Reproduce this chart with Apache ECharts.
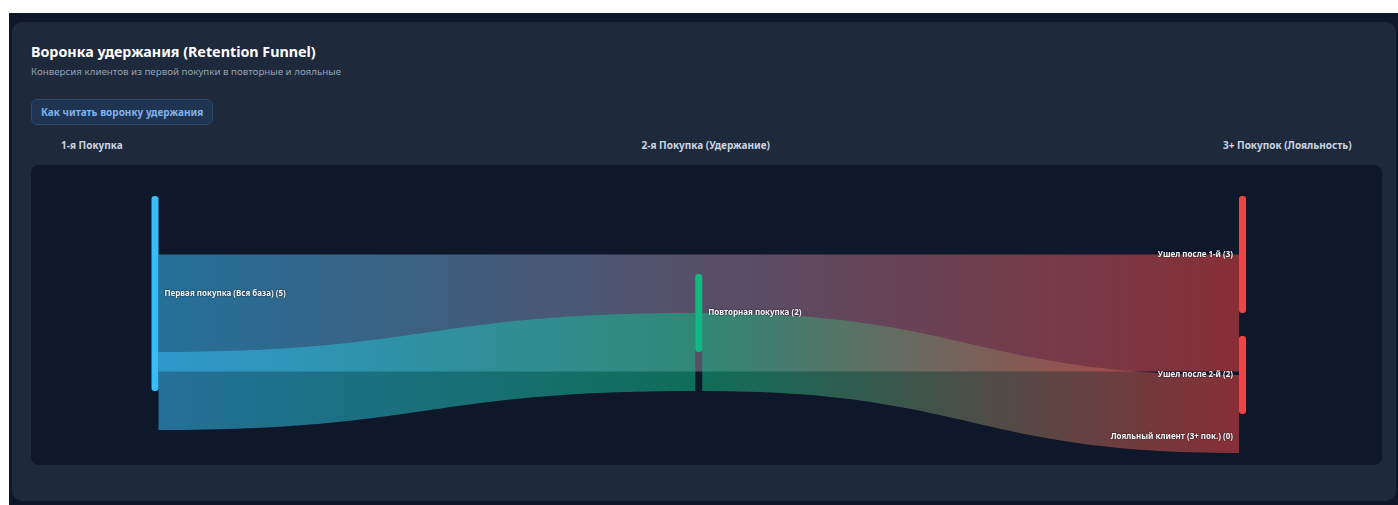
<!DOCTYPE html>
<html><head><meta charset="utf-8">
<script src="https://cdn.jsdelivr.net/npm/echarts@6/dist/echarts.min.js"></script>
<style>
html,body{margin:0;padding:0;background:#0f172a;width:100%;height:100%;overflow:hidden;font-family:"Noto Sans","Open Sans",sans-serif;}
#wtop{position:absolute;left:0;top:0;width:100%;height:13px;background:#ffffff;}
#wleft{position:absolute;left:0;top:0;width:9px;height:100%;background:#ffffff;}
#card{position:absolute;left:12px;top:22px;width:1384px;height:479px;background:#1e293b;border-radius:10px;}
.abs{position:absolute;white-space:nowrap;}
#title{left:31px;top:41px;font-size:14.3px;font-weight:700;color:#ffffff;line-height:22px;}
#sub{left:31px;top:65px;font-size:9.75px;color:#94a3b8;line-height:14px;}
#btn{left:31px;top:99px;width:180px;height:24px;border:1px solid #2c4a6e;background:#1f3451;border-radius:6px;box-sizing:content-box;}
#btn span{position:absolute;left:9px;top:5px;font-size:10px;font-weight:700;color:#7fb3ec;line-height:14px;}
.hdr{top:138px;font-size:10px;font-weight:700;color:#cbd5e1;line-height:14px;}
#chartwrap{position:absolute;left:31px;top:165px;width:1351px;height:300px;background:#0f172a;border-radius:8px;overflow:hidden;}
#chart{width:1351px;height:300px;}
</style></head>
<body>
<div id="wtop"></div>
<div id="wleft"></div>
<div id="card"></div>
<div class="abs" id="title">Воронка удержания (Retention Funnel)</div>
<div class="abs" id="sub">Конверсия клиентов из первой покупки в повторные и лояльные</div>
<div class="abs" id="btn"><span>Как читать воронку удержания</span></div>
<div class="abs hdr" id="h0"></div>
<div class="abs hdr" id="h1"></div>
<div class="abs hdr" id="h2"></div>
<div id="chartwrap"><div id="chart"></div></div>
<script>
// ---- data ----
const stages = ['1-я Покупка', '2-я Покупка (Удержание)', '3+ Покупок (Лояльность)'];
const nodeNames = ['Первая покупка (Вся база)', 'Повторная покупка', 'Ушел после 1-й', 'Ушел после 2-й', 'Лояльный клиент (3+ пок.)'];
const nodeValues = [5, 2, 3, 2, 0];
const nodeStage = [0, 1, 2, 2, 2];
const nodeColors = ['#38bdf8', '#10b981', '#ef4444', '#ef4444', '#a855f7'];
const linkSource = [0, 0, 1, 1];
const linkTarget = [2, 1, 3, 4];
const linkValues = [3, 2, 2, 0];

// headers
document.getElementById('h0').textContent = stages[0];
document.getElementById('h1').textContent = stages[1];
document.getElementById('h2').textContent = stages[2];
(function placeHeaders(){
  const h0 = document.getElementById('h0'), h1 = document.getElementById('h1'), h2 = document.getElementById('h2');
  h0.style.left = '61px';
  h1.style.left = (706 - h1.offsetWidth / 2) + 'px';
  h2.style.left = (1352 - h2.offsetWidth) + 'px';
})();

// ---- layout (in value units) ----
const NODE_GAP = 23 / 39;
const nodeTop = new Array(nodeNames.length).fill(null);
// first and last stage: stack from top
[0, 2].forEach(function (s) {
  let y = 0;
  nodeNames.forEach(function (n, i) {
    if (nodeStage[i] === s) { nodeTop[i] = y; y += nodeValues[i] + NODE_GAP; }
  });
});
// middle stage: centre each node on the start of its incoming slot at the source
(function placeMiddle(){
  const o = nodeValues.map(function () { return 0; });
  linkValues.forEach(function (v, k) {
    const s = linkSource[k], t = linkTarget[k];
    if (nodeTop[s] === null) return;
    const st = nodeTop[s] + o[s];
    o[s] += v;
    if (nodeTop[t] === null) nodeTop[t] = st - nodeValues[t] / 2;
  });
})();
// slot offsets
const linkSrcTop = [], linkTgtTop = [];
(function slots(){
  const o = nodeValues.map(function () { return 0; });
  const n = nodeValues.map(function () { return 0; });
  linkValues.forEach(function (v, k) {
    const s = linkSource[k], t = linkTarget[k];
    linkSrcTop[k] = nodeTop[s] + o[s]; o[s] += v;
    linkTgtTop[k] = nodeTop[t] + n[t]; n[t] += v;
  });
})();

const NODE_W = 7;
const chart = echarts.init(document.getElementById('chart'), null, {renderer: 'canvas'});

function linkItem(params, api) {
  const k = params.dataIndex;
  const v = linkValues[k];
  if (!v) return null;
  const s = linkSource[k], t = linkTarget[k];
  // band drawn centred on the slot's lower edge
  const ys0 = linkSrcTop[k] + v / 2, ys1 = ys0 + v;
  const yt0 = linkTgtTop[k] + v / 2, yt1 = yt0 + v;
  const pS0 = api.coord([nodeStage[s], ys0]), pS1 = api.coord([nodeStage[s], ys1]);
  const pT0 = api.coord([nodeStage[t], yt0]), pT1 = api.coord([nodeStage[t], yt1]);
  const x0 = pS0[0] + NODE_W / 2, x1 = pT0[0] - NODE_W / 2, xm = (x0 + x1) / 2;
  const d = 'M' + x0 + ',' + pS0[1] + 'C' + xm + ',' + pS0[1] + ' ' + xm + ',' + pT0[1] + ' ' + x1 + ',' + pT0[1] +
    'L' + x1 + ',' + pT1[1] + 'C' + xm + ',' + pT1[1] + ' ' + xm + ',' + pS1[1] + ' ' + x0 + ',' + pS1[1] + 'Z';
  return {
    type: 'path',
    shape: {pathData: d},
    style: {
      fill: new echarts.graphic.LinearGradient(0, 0, 1, 0, [
        {offset: 0, color: nodeColors[s]}, {offset: 1, color: nodeColors[t]}
      ]),
      opacity: 0.54
    }
  };
}

function nodeItem(params, api) {
  const i = params.dataIndex;
  const p0 = api.coord([nodeStage[i], nodeTop[i]]);
  const p1 = api.coord([nodeStage[i], nodeTop[i] + nodeValues[i]]);
  const h = p1[1] - p0[1];
  const last = nodeStage[i] === stages.length - 1;
  const children = [];
  if (h > 0) {
    children.push({type: 'rect', shape: {x: p0[0] - NODE_W / 2, y: p0[1], width: NODE_W, height: h, r: 3}, style: {fill: nodeColors[i]}});
  }
  children.push({
    type: 'text', z2: 10,
    style: {
      text: nodeNames[i] + ' (' + nodeValues[i] + ')',
      x: last ? p0[0] - NODE_W / 2 - 6 : p0[0] + NODE_W / 2 + 6,
      y: (p0[1] + p1[1]) / 2,
      align: last ? 'right' : 'left', verticalAlign: 'middle',
      fill: '#f1f5f9', font: 'bold 8px "Noto Sans", sans-serif',
      textShadowColor: 'rgba(0,0,0,0.8)', textShadowBlur: 2
    }
  });
  return {type: 'group', children: children};
}

chart.setOption({
  animation: false,
  backgroundColor: 'transparent',
  grid: {left: 124, top: 31, width: 1087.5, height: 234},
  xAxis: {type: 'value', min: 0, max: stages.length - 1, show: false},
  yAxis: {type: 'value', inverse: true, min: 0, max: 6, show: false},
  series: [
    {type: 'custom', name: 'links', renderItem: linkItem, clip: false, data: linkValues.map(function (v, k) { return [k, v]; }), z: 1},
    {type: 'custom', name: 'nodes', renderItem: nodeItem, clip: false, data: nodeValues.map(function (v, i) { return [nodeStage[i], v]; }), z: 2}
  ]
});
</script>
</body></html>
